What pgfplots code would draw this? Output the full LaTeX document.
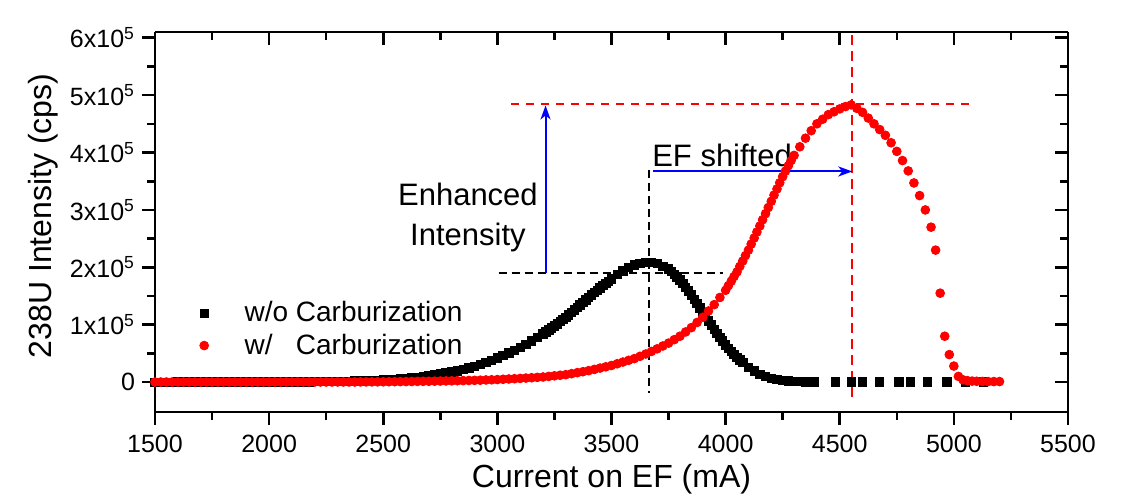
\documentclass[border=0pt]{standalone}
\usepackage{pgfplots}
\pgfplotsset{compat=1.18}
\usepackage{fontspec}
\setmainfont{Liberation Sans}
\usetikzlibrary{arrows.meta}
\begin{document}
\begin{tikzpicture}
\useasboundingbox (-77.5pt,-44.5pt) rectangle (493pt,206pt);
\pgfplotsset{
  common/.style={
    at={(0,0)}, anchor=south west,
    scale only axis, width=456.5pt, height=190pt,
    xmin=1500, xmax=5500, ymin=-0.52, ymax=6.1,
    xtick={1500,2000,...,5500}, minor x tick num=1,
    ytick={0,1,...,6}, minor y tick num=1,
    major tick length=6.5pt, minor tick length=4pt,
    axis line style={line width=1.3pt},
    every tick/.style={line width=1.3pt, black},
  },
  legimg/.style={legend image code/.code={\path (0pt,0pt) (36pt,0pt); \draw[mark repeat=2,mark phase=2,##1] plot coordinates {(0pt,0pt)(18pt,0pt)(36pt,0pt)};}},
}
\begin{axis}[common,
  axis x line*=bottom, axis y line*=left,
  tick align=outside,
  xticklabels={1500,2000,2500,3000,3500,4000,4500,5000,5500},
  yticklabels={0,1x10\textsuperscript{5},2x10\textsuperscript{5},3x10\textsuperscript{5},4x10\textsuperscript{5},5x10\textsuperscript{5},6x10\textsuperscript{5}},
  ticklabel style={font=\fontsize{12.5}{15}\selectfont},
  xticklabel style={yshift=-1.5pt},
  xlabel={Current on EF (mA)}, ylabel={238U Intensity (cps)},
  label style={font=\fontsize{16}{19}\selectfont},
  xlabel style={at={(axis description cs:0.5,-0.178)}, anchor=center},
  ylabel style={at={(axis description cs:-0.1227,0.516)}, anchor=center},
  legend style={draw=none, fill=none, at={(axis description cs:0.007,0.3125)}, anchor=north west,
    font=\fontsize{14}{16}\selectfont, row sep=0.5pt},
  legend cell align=left,
]
\addplot[only marks, mark=square*, mark size=2.1pt, black, legimg] coordinates {
(1500,0.000)(1525,0.000)(1550,0.000)(1575,0.000)(1600,0.001)(1625,0.001)(1650,0.001)(1675,0.001)(1700,0.001)(1725,0.001)(1750,0.001)(1775,0.002)(1800,0.002)(1825,0.002)(1850,0.002)(1875,0.002)(1900,0.002)(1925,0.002)(1950,0.003)(1975,0.003)(2000,0.003)(2025,0.003)(2050,0.004)(2075,0.004)(2100,0.005)(2125,0.006)(2150,0.007)(2175,0.007)(2200,0.008)(2225,0.009)(2250,0.010)(2275,0.012)(2300,0.013)(2325,0.015)(2350,0.017)(2375,0.020)(2400,0.022)(2425,0.026)(2450,0.030)(2475,0.035)(2500,0.040)(2525,0.046)(2550,0.052)(2575,0.058)(2600,0.065)(2625,0.075)(2650,0.086)(2675,0.098)
(2700,0.110)(2725,0.125)(2750,0.141)(2775,0.158)(2800,0.175)(2825,0.198)(2850,0.222)(2875,0.248)(2900,0.275)(2925,0.309)(2950,0.344)(2975,0.381)(3000,0.420)(3025,0.463)(3050,0.507)(3075,0.553)(3100,0.600)(3125,0.658)(3150,0.717)(3175,0.778)(3200,0.840)(3212,0.875)(3225,0.910)(3237,0.946)(3250,0.982)(3262,1.018)(3275,1.055)(3287,1.092)(3300,1.130)(3312,1.173)(3325,1.216)(3337,1.259)(3350,1.303)(3362,1.347)(3375,1.391)(3387,1.435)(3400,1.480)(3412,1.522)(3425,1.563)(3437,1.603)(3450,1.643)(3462,1.682)(3475,1.720)(3487,1.760)(3500,1.800)(3525,1.875)(3550,1.940)(3575,1.995)(3600,2.040)(3625,2.068)(3650,2.085)(3675,2.090)(3700,2.065)
(3725,2.020)(3750,1.970)(3762,1.925)(3775,1.880)(3787,1.830)(3800,1.780)(3812,1.718)(3825,1.655)(3837,1.588)(3850,1.520)(3862,1.445)(3875,1.370)(3887,1.295)(3900,1.220)(3912,1.145)(3925,1.070)(3937,0.995)(3950,0.920)(3962,0.850)(3975,0.780)(3987,0.715)(4000,0.650)(4012,0.592)(4025,0.535)(4037,0.482)(4050,0.430)(4062,0.385)(4075,0.340)(4100,0.260)(4125,0.195)(4150,0.140)(4175,0.100)(4200,0.070)(4225,0.048)(4250,0.030)(4275,0.020)(4300,0.012)(4325,0.008)(4350,0.005)(4390,0.003)(4480,0.002)(4550,0.002)(4600,0.002)(4675,0.002)(4760,0.002)(4810,0.002)(4885,0.002)(4970,0.002)(5050,0.002)(5130,0.002)
};
\addlegendentry{w/o Carburization}
\addplot[only marks, mark=*, mark size=2.2pt, red, legimg] coordinates {
(1500,0.002)(1525,0.002)(1550,0.002)(1575,0.002)(1600,0.002)(1625,0.002)(1650,0.002)(1675,0.002)(1700,0.002)(1725,0.002)(1750,0.002)(1775,0.002)(1800,0.002)(1825,0.002)(1850,0.002)(1875,0.002)(1900,0.002)(1925,0.002)(1950,0.002)(1975,0.002)(2000,0.002)(2025,0.003)(2050,0.003)(2075,0.003)(2100,0.003)(2125,0.003)(2150,0.003)(2175,0.003)(2200,0.003)(2225,0.003)(2250,0.003)(2275,0.003)(2300,0.003)(2325,0.003)(2350,0.003)(2375,0.003)
(2400,0.004)(2425,0.004)(2450,0.005)(2475,0.005)(2500,0.006)(2525,0.007)(2550,0.008)(2575,0.009)(2600,0.010)(2625,0.011)(2650,0.013)(2675,0.014)(2700,0.015)(2725,0.017)(2750,0.019)(2775,0.021)(2800,0.023)(2825,0.025)(2850,0.027)(2875,0.029)(2900,0.031)(2925,0.034)(2950,0.038)(2975,0.041)(3000,0.045)(3025,0.050)(3050,0.055)(3075,0.060)(3100,0.065)(3125,0.071)(3150,0.077)(3175,0.083)(3200,0.090)(3225,0.100)(3250,0.110)(3275,0.120)(3300,0.130)(3325,0.147)(3350,0.165)(3375,0.182)(3400,0.200)(3425,0.222)(3450,0.245)(3475,0.267)(3500,0.290)(3525,0.320)(3550,0.350)(3575,0.380)(3600,0.410)(3625,0.450)(3650,0.490)(3675,0.535)(3700,0.580)(3725,0.630)(3750,0.680)(3775,0.740)(3800,0.800)(3825,0.875)(3850,0.950)(3875,1.040)(3900,1.130)(3925,1.240)(3950,1.350)(3975,1.475)
(4000,1.600)(4012,1.680)(4025,1.760)(4037,1.840)(4050,1.920)(4062,2.015)(4075,2.110)(4087,2.205)(4100,2.300)(4112,2.405)(4125,2.510)(4137,2.615)(4150,2.720)(4162,2.828)(4175,2.935)(4187,3.042)(4200,3.150)(4212,3.258)(4225,3.365)(4237,3.472)(4250,3.580)(4262,3.675)(4275,3.770)(4287,3.860)(4300,3.950)(4325,4.100)(4350,4.250)(4375,4.380)(4400,4.500)(4425,4.580)(4450,4.660)(4475,4.710)(4500,4.760)(4525,4.800)(4550,4.830)(4575,4.770)(4600,4.700)(4625,4.600)(4650,4.500)(4675,4.400)(4700,4.300)(4725,4.170)(4750,4.020)(4775,3.860)(4800,3.680)(4825,3.470)(4850,3.250)(4875,3.000)(4900,2.700)(4920,2.300)(4940,1.550)(4960,0.800)(4980,0.480)(5000,0.280)(5020,0.100)(5040,0.040)(5060,0.025)(5080,0.018)(5100,0.015)(5125,0.012)(5150,0.010)(5175,0.010)(5200,0.010)
};
\addlegendentry{w/\ \ \ Carburization}
% annotations
\draw[black, line width=1pt, dash pattern=on 4pt off 2.5pt] (axis cs:3665,3.70) -- (axis cs:3665,-0.19);
\draw[black, line width=1pt, dash pattern=on 4pt off 2.5pt] (axis cs:3005,1.91) -- (axis cs:3990,1.91);
\draw[red, line width=1pt, dash pattern=on 4pt off 3.5pt] (axis cs:3060,4.85) -- (axis cs:5080,4.85);
\draw[red, line width=1pt, dash pattern=on 5pt off 3pt] (axis cs:4555,6.05) -- (axis cs:4555,-0.26);
\draw[blue, line width=1pt, -{Stealth[length=7pt,width=5pt,inset=2pt]}] (axis cs:3211,1.91) -- (axis cs:3211,4.82);
\draw[blue, line width=1pt, -{Stealth[length=7pt,width=5pt,inset=2pt]}] (axis cs:3682,3.67) -- (axis cs:4555,3.67);
\node[anchor=base, inner sep=0pt, font=\fontsize{15.5}{19}\selectfont] at (axis cs:2871,3.08) {Enhanced};
\node[anchor=base, inner sep=0pt, font=\fontsize{15.5}{19}\selectfont] at (axis cs:2871,2.38) {Intensity};
\node[anchor=base west, inner sep=0pt, font=\fontsize{15.5}{19}\selectfont] at (axis cs:3677,3.76) {EF shifted};
\end{axis}
\begin{axis}[common,
  axis x line*=top, axis y line*=right,
  tick align=inside,
  xticklabels={,,,,,,,,}, yticklabels={,,,,,,},
]
\addplot[draw=none] coordinates {(1500,0)};
\end{axis}
\end{tikzpicture}
\end{document}
